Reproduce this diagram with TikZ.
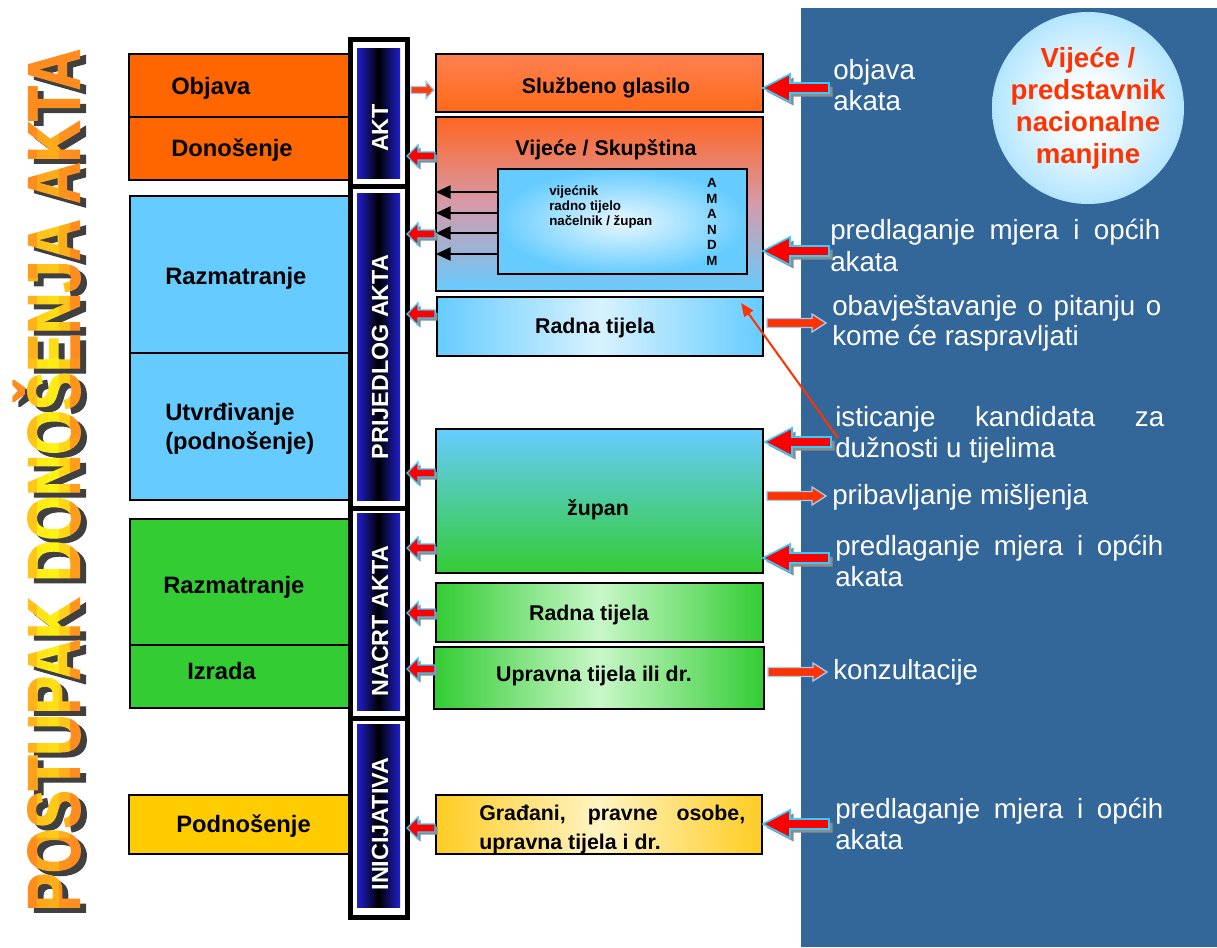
\documentclass[tikz,border=0pt]{standalone}
\usepackage{fontspec}
\usepackage{graphicx}
\setmainfont{Liberation Sans}
\newfontfamily\titlefont{Liberation Sans}[FakeBold=2]
\usetikzlibrary{arrows.meta}
\definecolor{panel}{RGB}{51,102,153}
\definecolor{lorange}{HTML}{FF6600}
\definecolor{lblue}{HTML}{66CCFF}
\definecolor{lgreen}{HTML}{33CC33}
\definecolor{lyellow}{HTML}{FFCC00}
\definecolor{bpurple}{RGB}{128,32,208}
\definecolor{bblue}{RGB}{30,30,200}
\definecolor{arrred}{HTML}{FF0000}
\definecolor{arrcyan}{HTML}{33CCFF}
\definecolor{arrorange}{HTML}{FF3300}
\definecolor{arrpale}{HTML}{99CCFF}
\definecolor{circtext}{HTML}{FF3300}
\definecolor{tOr}{RGB}{255,140,30}
\definecolor{tYe}{RGB}{255,245,20}
\definecolor{vtop}{HTML}{FF6622}
\definecolor{vmid}{RGB}{214,154,170}
\definecolor{radmid}{HTML}{D8F2FF}
\definecolor{grmid}{HTML}{C8F7C8}
\definecolor{ylw}{HTML}{FFCC22}
\definecolor{ylmid}{HTML}{FFF4C4}
\definecolor{gltop}{HTML}{FF8050}
\definecolor{glbot}{HTML}{FF6A1A}
\pgfdeclarehorizontalshading{barshade}{100bp}{color(0bp)=(bpurple); color(8bp)=(bpurple); color(26bp)=(bblue); color(50bp)=(black); color(74bp)=(bblue); color(92bp)=(bpurple); color(100bp)=(bpurple)}
\pgfdeclareradialshading{circshade}{\pgfpoint{0bp}{0bp}}{color(0bp)=(white); color(6bp)=(white); color(44bp)=(lblue); color(50bp)=(lblue)}
\newcommand\titletext{\scalebox{0.773}[1]{POSTUPAK DONOŠENJA AKTA}}
\tikzset{
  wh/.style 2 args={minimum width=#1*0.75pt, minimum height=#2*0.75pt},
  bx/.style={draw=black, line width=1pt, inner sep=0pt, outer sep=0pt},
  lab/.style={font=\bfseries\fontsize{17.8}{21.75}\selectfont, inner sep=0pt, anchor=west},
  labone/.style={lab, text height=0.75em, text depth=0.22em},
  rlab/.style={font=\bfseries\fontsize{16}{21.75}\selectfont, inner sep=0pt, text height=0.75em, text depth=0.22em},
  wtxt/.style={text=white, font=\fontsize{20.8}{23.25}\selectfont, inner sep=0pt, anchor=base west},
  bartxt/.style={text=white, font=\bfseries\fontsize{17.5}{20}\selectfont, rotate=90, inner sep=0pt},
  barframe/.style={draw=black, fill=white, line width=3.75pt, inner sep=0pt},
  bargrad/.style={shade, shading=barshade, inner sep=0pt, draw=none},
  titlestyle/.style={rotate=90, inner sep=0pt, text height=39.7pt, text depth=0pt,
     font=\titlefont\bfseries\fontsize{55.5}{60}\selectfont},
  pics/Lsm/.style={code={
    \fill[black!45, shift={(2.5,2.5)}] (0,0) -- (11,-11) -- (11,-4) -- (28,-4) -- (28,4) -- (11,4) -- (11,11) -- cycle;
    \filldraw[fill=arrred, draw=arrcyan, line width=1pt] (0,0) -- (11,-11) -- (11,-4) -- (28,-4) -- (28,4) -- (11,4) -- (11,11) -- cycle;
  }},
  pics/Lbig/.style={code={
    \fill[black!45, shift={(3.5,3.5)}] (0,0) -- (27,-14) -- (27,-5) -- (66,-5) -- (66,5) -- (27,5) -- (27,14) -- cycle;
    \filldraw[fill=arrred, draw=arrcyan, line width=1.2pt] (0,0) -- (27,-14) -- (27,-5) -- (66,-5) -- (66,5) -- (27,5) -- (27,14) -- cycle;
  }},
  pics/Rthin/.style={code={
    \filldraw[fill=arrorange, draw=arrpale, line width=1pt] (0,0) -- (-14,-9) -- (-14,-4.5) -- (-59,-4.5) -- (-59,4.5) -- (-14,4.5) -- (-14,9) -- cycle;
  }},
  pics/Rtiny/.style={code={
    \filldraw[fill=arrorange!85!orange, draw=arrpale, line width=1pt] (0,0) -- (-8,-8.5) -- (-8,-3.5) -- (-23,-3.5) -- (-23,3.5) -- (-8,3.5) -- (-8,8.5) -- cycle;
  }},
}
\begin{document}
\begin{tikzpicture}[x=0.75pt,y=-0.75pt]
\useasboundingbox (0,0) rectangle (1217,947);
\fill[white] (0,0) rectangle (1217,947);
\fill[panel] (801,8) rectangle (1217,947);

% ---- vertical title ----
\node[titlestyle, text=black!75] (title-sh) at (59,485) {\titletext};
\foreach \i in {0,...,7}{
  \foreach \j in {0,...,10}{
    \pgfmathsetmacro\xa{4+11*\i}
    \pgfmathsetmacro\ya{38+80*\j}
    \pgfmathtruncatemacro\pc{100*max(0,min(1,1-((\xa+5.5-50)/28)^2-((\ya+40-520)/440)^2))}
    \begin{scope}
      \clip (\xa,\ya) rectangle ++(11.3,80.5);
      \node[titlestyle, text=tYe!\pc!tOr] (title-\i-\j) at (53,480) {\titletext};
    \end{scope}
  }
}

% ---- left phase boxes ----
\node[bx, wh={221}{63}, fill=lorange] (objava) at (239.5,85.5) {};
\node[bx, wh={221}{63}, fill=lorange] (donos) at (239.5,148.5) {};
\node[bx, wh={220}{157}, fill=lblue] (razm1) at (240,274.5) {};
\node[bx, wh={220}{147}, fill=lblue] (utvr) at (240,426.5) {};
\node[bx, wh={220}{126}, fill=lgreen] (razm2) at (240,582) {};
\node[bx, wh={220}{63}, fill=lgreen] (izrada) at (240,676.5) {};
\node[bx, wh={221}{59}, fill=lyellow] (podn) at (239.5,824.5) {};

\node[labone] (objava-t) at (171,91) {Objava};
\node[labone] (donos-t) at (171,153) {Donošenje};
\node[labone] (razm1-t) at (165,281) {Razmatranje};
\node[lab, align=left] (utvr-t) at (165,429) {Utvrđivanje\\(podnošenje)};
\node[labone] (razm2-t) at (163,590) {Razmatranje};
\node[labone] (izrada-t) at (187,676) {Izrada};
\node[labone] (podn-t) at (176,829) {Podnošenje};

% ---- central bar ----
\node[barframe, wh={57}{146.5}] (fAKT) at (379,112.75) {};
\node[barframe, wh={57}{322}] (fPRIJ) at (379,347) {};
\node[barframe, wh={57}{210}] (fNACRT) at (379,613) {};
\node[barframe, wh={57}{199.5}] (fINIC) at (379,817.75) {};
\node[bargrad, wh={43}{130}] (gAKT) at (378.5,113) {};
\node[bargrad, wh={43}{307}] (gPRIJ) at (378.5,346.5) {};
\node[bargrad, wh={43}{197}] (gNACRT) at (378.5,611.5) {};
\node[bargrad, wh={43}{183}] (gINIC) at (378.5,815.5) {};
\node[bartxt] (tAKT) at (380,128) {AKT};
\node[bartxt] (tPRIJ) at (380,357) {PRIJEDLOG AKTA};
\node[bartxt] (tNACRT) at (380,621) {NACRT AKTA};
\node[bartxt] (tINIC) at (380,824) {INICIJATIVA};

% ---- right boxes ----
\node[bx, wh={327}{58}, top color=gltop, bottom color=glbot] (glasilo) at (599.5,83) {};
\node[bx, wh={327}{174}, top color=vtop, bottom color=lblue, middle color=vmid] (vijece) at (599.5,204) {};
\node[bx, wh={249}{105}, inner color=white!85!lblue, outer color=lblue] (inner) at (622.5,221.5) {};
\node[bx, wh={326}{59}, left color=lblue, right color=lblue, middle color=radmid] (radna1) at (600,326.5) {};
\node[bx, wh={327}{144}, top color=lblue, bottom color=lgreen] (zupan) at (599.5,501) {};
\node[bx, wh={327}{59}, left color=lgreen, right color=lgreen, middle color=grmid] (radna2) at (599.5,612.5) {};
\node[bx, wh={330}{62}, left color=lgreen, right color=lgreen, middle color=grmid] (uprav) at (599,678) {};
\node[bx, wh={326}{59}, left color=ylw, right color=ylw, middle color=ylmid] (gradj) at (599,824.5) {};

\node[rlab] (glasilo-t) at (606,90) {Službeno glasilo};
\node[rlab] (vijece-t) at (606,152) {Vijeće / Skupština};
\node[rlab] (radna1-t) at (595,330) {Radna tijela};
\node[rlab] (zupan-t) at (598,512) {župan};
\node[rlab] (radna2-t) at (589,617) {Radna tijela};
\node[rlab] (uprav-t) at (594,678) {Upravna tijela ili dr.};
\node[rlab, anchor=base west, text height=, text depth=] (gradj-t1) at (479,820) {\makebox[199.5pt][s]{Građani, pravne osobe,}};
\node[rlab, anchor=base west, text height=, text depth=] (gradj-t2) at (479,849) {upravna tijela i dr.};

\node[font=\bfseries\fontsize{10}{11.25}\selectfont, align=left, anchor=west, inner sep=0pt] (inner-t) at (549,207) {vijećnik\\radno tijelo\\načelnik / župan};
\node[font=\bfseries\fontsize{10}{11.6}\selectfont, align=center, inner sep=0pt] (amand) at (712,222) {A\\M\\A\\N\\D\\M};

\foreach \yy in {192,213,233,254}
  \draw[line width=1.2pt, -{Triangle[length=11pt,width=10pt]}] (inner.west |- 0,\yy) -- (vijece.west |- 0,\yy);

% ---- circle ----
\node[circle, minimum size=192*0.75pt, inner sep=0pt, shade, shading=circshade] (circ) at (1088,108) {};
\node[text=circtext, font=\bfseries\fontsize{20.7}{24}\selectfont, align=center, inner sep=0pt] (circ-t) at (1088,108.5) {Vijeće /\\predstavnik\\nacionalne\\manjine};

% ---- panel texts ----
\node[wtxt] (p1a) at (833,79) {objava};
\node[wtxt] (p1b) at (833,110) {akata};
\node[wtxt] (p2a) at (830,239) {\makebox[247.5pt][s]{predlaganje mjera i općih}};
\node[wtxt] (p2b) at (830,271) {akata};
\node[wtxt] (p3a) at (832,315) {\makebox[246.75pt][s]{obavještavanje o pitanju o}};
\node[wtxt] (p3b) at (832,345) {kome će raspravljati};
\node[wtxt] (p4a) at (835,426) {\makebox[246.75pt][s]{isticanje kandidata za}};
\node[wtxt] (p4b) at (835,457) {dužnosti u tijelima};
\node[wtxt] (p5) at (832,504) {pribavljanje mišljenja};
\node[wtxt] (p6a) at (835,555) {\makebox[246pt][s]{predlaganje mjera i općih}};
\node[wtxt] (p6b) at (835,586) {akata};
\node[wtxt] (p7) at (833,679) {konzultacije};
\node[wtxt] (p8a) at (835,818) {\makebox[246pt][s]{predlaganje mjera i općih}};
\node[wtxt] (p8b) at (835,849) {akata};

% ---- block arrows ----
\foreach \yy in {156,234,314,473,548,613,669,828}
  \pic at (407,\yy) {Lsm};
\pic at (763,88) {Lbig};
\pic at (763,251) {Lbig};
\pic at (765,442) {Lbig};
\pic at (763,558) {Lbig};
\pic at (763,824) {Lbig};
\pic at (826,323) {Rthin};
\pic at (826,496) {Rthin};
\pic at (827,672) {Rthin};
\pic at (434,90) {Rtiny};

% ---- thin red connector ----
\coordinate (ist) at (838,438);
\coordinate (istEnd) at (741,303);
\draw[arrorange, line width=1.5pt, -{Triangle[length=10pt,width=8pt]}] (ist) -- (istEnd);
\end{tikzpicture}
\end{document}
